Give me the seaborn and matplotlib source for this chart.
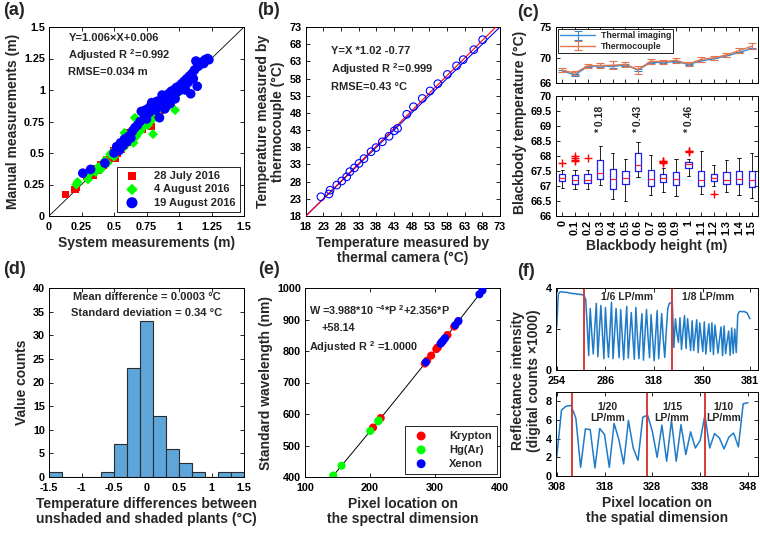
import numpy as np
import matplotlib
matplotlib.use("Agg")
import matplotlib.pyplot as plt
from matplotlib.ticker import FuncFormatter
import seaborn as sns

sns.set_theme(style="ticks")
plt.rcParams['font.family'] = ['Liberation Sans', 'DejaVu Sans']
plt.rcParams.update({
    'font.weight': 'bold', 'axes.labelweight': 'bold',
    'axes.edgecolor': 'black', 'axes.linewidth': 0.7,
    'xtick.direction': 'in', 'ytick.direction': 'in',
    'xtick.top': True, 'ytick.right': True,
    'xtick.major.size': 3, 'ytick.major.size': 3,
    'xtick.major.width': 0.6, 'ytick.major.width': 0.6,
    'xtick.color': 'black', 'ytick.color': 'black',
    'xtick.labelsize': 7.8, 'ytick.labelsize': 7.8,
    'xtick.major.pad': 4, 'ytick.major.pad': 2.8,
    'axes.labelsize': 10, 'axes.labelpad': 3,
    'mathtext.fontset': 'custom', 'mathtext.rm': 'Liberation Sans:bold',
    'mathtext.default': 'rm',
})

# ---------------- (a) plant height ----------------
july_sys = [0.13, 0.20, 0.21, 0.29, 0.34, 0.36, 0.38, 0.40, 0.42, 0.44, 0.46, 0.47, 0.49, 0.50, 0.51, 0.52, 0.53,
            0.55, 0.56, 0.57, 0.58, 0.59, 0.60, 0.61, 0.62, 0.63, 0.64, 0.66, 0.67, 0.68, 0.70, 0.72, 0.73, 0.75,
            0.77, 0.78, 0.80, 0.82, 0.84, 0.86, 0.88, 0.90, 0.92, 0.94, 0.95, 0.97, 0.99, 0.85, 0.79, 0.74]
july_man = [0.17, 0.21, 0.23, 0.31, 0.32, 0.38, 0.36, 0.41, 0.40, 0.45, 0.44, 0.48, 0.47, 0.52, 0.46, 0.55, 0.50,
            0.57, 0.53, 0.60, 0.56, 0.63, 0.58, 0.66, 0.61, 0.64, 0.68, 0.65, 0.70, 0.67, 0.72, 0.69, 0.75, 0.73,
            0.78, 0.75, 0.82, 0.80, 0.86, 0.84, 0.89, 0.87, 0.92, 0.90, 0.95, 0.96, 0.98, 0.79, 0.71, 0.79]
aug4_sys = [0.21, 0.22, 0.30, 0.31, 0.36, 0.38, 0.40, 0.43, 0.45, 0.47, 0.49, 0.50, 0.52, 0.54, 0.56, 0.58, 0.60,
            0.62, 0.63, 0.65, 0.66, 0.67, 0.68, 0.70, 0.71, 0.72, 0.74, 0.76, 0.78, 0.79, 0.80, 0.81, 0.83, 0.84,
            0.86, 0.87, 0.88, 0.89, 0.90, 0.92, 0.93, 0.95, 0.97, 0.96, 0.99, 0.66, 0.58]
aug4_man = [0.25, 0.27, 0.29, 0.33, 0.35, 0.39, 0.37, 0.44, 0.42, 0.49, 0.51, 0.47, 0.53, 0.55, 0.58, 0.55, 0.62,
            0.60, 0.65, 0.58, 0.68, 0.63, 0.71, 0.67, 0.74, 0.70, 0.77, 0.72, 0.80, 0.76, 0.65, 0.84, 0.81, 0.88,
            0.86, 0.92, 0.87, 0.95, 0.90, 0.93, 0.89, 0.96, 0.84, 0.93, 0.97, 0.78, 0.66]
aug19_sys = [0.26, 0.32, 0.43, 0.50, 0.52, 0.54, 0.55, 0.57, 0.58, 0.60, 0.61, 0.63, 0.64, 0.66, 0.68, 0.70, 0.71,
             0.73, 0.74, 0.75, 0.76, 0.77, 0.78, 0.80, 0.81, 0.82, 0.83, 0.84, 0.85, 0.86, 0.87, 0.88, 0.89, 0.90,
             0.91, 0.92, 0.93, 0.94, 0.95, 0.96, 0.97, 0.98, 0.99, 1.00, 1.01, 1.02, 1.03, 1.04, 1.05, 1.06, 1.07,
             1.08, 1.09, 1.10, 1.11, 1.12, 1.13, 1.14, 1.15, 1.17, 1.19, 1.20, 1.22, 1.23, 0.97, 0.93, 0.89, 1.05,
             0.79, 0.87]
aug19_man = [0.34, 0.37, 0.42, 0.50, 0.55, 0.52, 0.58, 0.56, 0.61, 0.59, 0.63, 0.62, 0.67, 0.70, 0.72, 0.75, 0.83,
             0.81, 0.84, 0.77, 0.85, 0.82, 0.87, 0.86, 0.89, 0.84, 0.91, 0.88, 0.78, 0.92, 0.89, 0.94, 0.91, 0.95,
             0.93, 0.97, 0.94, 0.99, 0.96, 1.00, 0.97, 1.02, 0.99, 1.03, 1.00, 1.05, 1.02, 1.07, 1.04, 1.09, 1.06,
             1.11, 0.97, 1.13, 1.09, 1.16, 1.23, 1.03, 1.19, 1.22, 1.21, 1.24, 1.25, 1.24, 0.93, 0.89, 0.85, 1.00,
             0.90, 0.96]

# ---------------- (b) thermal camera vs thermocouple ----------------
camera_temp = [22.3, 24.6, 24.9, 26.8, 28.2, 29.6, 30.5, 31.8, 33.1, 34.5, 36.5, 37.9, 39.7, 41.6, 43.1, 44.0,
               46.6, 48.5, 51.0, 53.2, 55.4, 58.1, 60.7, 62.6, 65.6, 68.1]
couple_temp = [23.6, 24.4, 25.5, 27.0, 28.2, 29.4, 30.9, 32.0, 33.3, 34.7, 36.7, 37.9, 39.6, 41.2, 42.8, 43.5,
               47.6, 49.8, 52.2, 54.4, 56.5, 59.2, 61.7, 63.5, 66.4, 69.3]

# ---------------- (c) blackbody ----------------
heights = ['0', '0.1', '0.2', '0.3', '0.4', '0.5', '0.6', '0.7', '0.8', '0.9', '1', '1.1', '1.2', '1.3', '1.4', '1.5']
imaging_mean = [67.96, 67.30, 68.65, 68.75, 68.65, 68.90, 68.10, 69.30, 69.30, 69.45, 69.00, 69.55, 69.90, 70.35,
                70.90, 71.55]
imaging_err = [0.15, 0.15, 0.15, 0.15, 0.20, 0.15, 0.15, 0.15, 0.15, 0.15, 0.12, 0.15, 0.15, 0.15, 0.15, 0.15]
couple_mean = [68.05, 67.60, 68.75, 68.80, 68.85, 69.00, 68.15, 69.50, 69.40, 69.65, 69.05, 69.80, 70.05, 70.50,
               71.20, 71.90]
couple_err = [0.30, 0.28, 0.35, 0.35, 0.66, 0.45, 0.66, 0.40, 0.35, 0.40, 0.30, 0.40, 0.35, 0.35, 0.35, 0.48]

box_q3 = [67.40, 67.36, 67.39, 67.87, 67.58, 67.49, 68.11, 67.53, 67.39, 67.47, 67.80, 67.49, 67.41, 67.47, 67.50, 67.49]
box_q1 = [67.16, 67.08, 67.10, 67.24, 66.89, 67.08, 67.49, 67.00, 67.13, 67.02, 67.60, 67.00, 67.16, 67.07, 67.07, 66.97]
box_med = [67.27, 67.19, 67.21, 67.44, 67.23, 67.27, 67.71, 67.22, 67.27, 67.24, 67.73, 67.19, 67.27, 67.19, 67.22, 67.19]
box_lo = [66.94, 66.89, 66.89, 67.02, 66.58, 66.49, 67.31, 66.69, 66.80, 66.67, 67.33, 66.73, 67.00, 66.80, 66.71, 66.60]
box_hi = [67.55, 67.55, 67.55, 68.33, 68.11, 67.89, 68.47, 68.05, 67.60, 67.91, 67.90, 68.18, 67.69, 67.86, 67.94, 68.11]
box_fliers = [[67.77], [67.83, 67.88, 67.93, 68.0], [67.92], [], [], [], [], [], [67.77, 67.8, 67.82, 67.84], [],
              [68.12, 68.15, 68.18], [], [66.75], [], [], []]
diff_labels = {3: '* 0.18', 6: '* 0.43', 10: '* 0.46'}

# ---------------- (d) histogram ----------------
hist_edges = [-1.5, -1.3, -1.1, -0.9, -0.7, -0.5, -0.3, -0.1, 0.1, 0.3, 0.5, 0.7, 0.9, 1.1, 1.3, 1.5]
hist_counts = [1, 0, 0, 0, 1, 7, 23, 33, 13, 6, 3, 1, 0, 1, 1]

# ---------------- (e) spectral calibration ----------------
krypton_px = [204.7, 216.5, 284.3, 287.9, 294.1, 302.0, 303.7, 304.1, 309.8, 311.2, 319.2, 329.5, 335.3]
krypton_nm = [557.0, 587.1, 760.2, 769.5, 785.5, 806.0, 810.4, 811.3, 826.3, 829.8, 850.9, 877.7, 892.9]
hg_px = [143.6, 156.2, 200.3, 212.6, 213.5]
hg_nm = [404.7, 435.8, 546.1, 577.0, 579.1]
xenon_px = [285.9, 308.6, 310.4, 313.1, 315.5, 331.1, 336.2, 368.3, 373.0]
xenon_nm = [764.2, 823.2, 828.0, 834.7, 840.9, 881.9, 895.2, 980.0, 992.3]

# ---------------- (f) spatial resolution ----------------
top_start = 254
top_signal = [2.10, 3.70, 3.80, 3.82, 3.80, 3.80, 3.78, 3.79, 3.76, 3.75, 3.74, 3.72, 3.73, 3.70, 3.71, 3.68,
              3.69, 3.66, 3.62, 3.45, 2.20,
              0.70, 3.00, 1.80, 0.78, 2.10, 3.25, 0.65, 1.90, 3.15, 1.80, 0.55, 3.05, 1.70, 0.62, 2.00, 3.30,
              0.55, 1.80, 3.00, 1.70, 0.60, 2.95, 1.70, 0.50, 1.90, 3.10, 0.58, 1.70, 2.80, 1.60, 0.52, 3.05,
              1.70, 0.55, 1.80, 2.75, 0.48, 1.70, 2.95, 1.60, 0.60, 2.70, 1.60, 0.45, 1.70, 2.90, 0.55, 1.60,
              2.75, 1.50, 0.62,
              1.90, 3.00, 3.25, 3.28, 3.20,
              1.10, 2.50, 1.80, 1.35, 2.55, 1.00, 1.90, 2.65, 1.05, 2.50, 1.70, 0.95, 2.40, 0.95, 1.70, 2.45,
              0.85, 2.30, 1.60, 0.90, 2.35, 0.78, 1.60, 2.25, 0.90, 2.30, 0.75, 2.20, 1.50, 0.82, 1.50, 2.10,
              0.70, 2.15, 0.80, 1.40, 1.90, 0.72, 2.05, 0.80, 2.00, 0.85,
              2.70, 2.85, 2.86, 2.84, 2.86, 2.82, 2.80, 2.65, 2.50]
top_bounds = [271.8, 329.8]
top_ticks = [254, 286, 318, 350, 381]

bottom_start = 308
bottom_signal = [2.04, 7.06, 7.49, 7.56, 6.20, 0.93, 5.05, 4.98, 0.86, 5.09, 4.44, 0.93, 5.63, 3.90, 1.29,
                 5.95, 3.00, 1.68, 6.30, 6.52, 4.80, 2.00, 5.45, 1.58, 5.95, 1.58, 5.50, 2.29, 4.73, 3.00,
                 3.80, 6.52, 3.00, 4.55, 4.09, 2.90, 4.16, 4.60, 3.12, 7.74, 7.85]
bottom_bounds = [311.1, 326.8, 339.0]
bottom_ticks = [308, 318, 328, 338, 348]


def fmt(v, pos=None):
    return f"{v:g}"


def box_axes(ax):
    ax.tick_params(which='both', top=True, right=True)
    for s in ax.spines.values():
        s.set_visible(True)
        s.set_color('black')


fig = plt.figure(figsize=(7.6, 5.34), dpi=100)
W, H = 760.0, 534.0


def add(l, t, r, b):
    return fig.add_axes([l / W, 1 - b / H, (r - l) / W, (b - t) / H])


# ---------- (a) ----------
ax = add(49, 27, 244, 216)
sns.scatterplot(x=july_sys, y=july_man, marker='s', s=26, color='#ff0000', edgecolor='none', ax=ax,
                label='28 July 2016', zorder=3)
sns.scatterplot(x=aug4_sys, y=aug4_man, marker='D', s=26, color='#00ff00', edgecolor='none', ax=ax,
                label='4 August 2016', zorder=4)
sns.scatterplot(x=aug19_sys, y=aug19_man, marker='o', s=48, color='#0000ff', edgecolor='none', ax=ax,
                label='19 August 2016', zorder=5)
ax.axline((0, 0), slope=1, color='black', lw=0.6, zorder=2)
ax.set_xlim(0, 1.5)
ax.set_ylim(0, 1.5)
ticks_a = [0, 0.25, 0.5, 0.75, 1, 1.25, 1.5]
ax.set_xticks(ticks_a)
ax.set_yticks(ticks_a)
ax.xaxis.set_major_formatter(FuncFormatter(fmt))
ax.yaxis.set_major_formatter(FuncFormatter(fmt))
ax.set_xlabel('System measurements (m)')
ax.set_ylabel('Manual measurements (m)')
leg = ax.legend(loc='lower right', fontsize=8, frameon=True, fancybox=False, framealpha=1,
                edgecolor='black', borderpad=0.35, handletextpad=1.0, labelspacing=0.3,
                borderaxespad=0.4, markerscale=1.15)
leg.get_frame().set_linewidth(0.6)
ax.text(0.1, 0.925, 'Y=1.006×X+0.006', transform=ax.transAxes, fontsize=8)
ax.text(0.1, 0.83, r'Adjusted R $^{2}$=0.992', transform=ax.transAxes, fontsize=8)
ax.text(0.1, 0.745, 'RMSE=0.034 m', transform=ax.transAxes, fontsize=8)
box_axes(ax)

# ---------- (b) ----------
ax = add(305.7, 27, 500, 216)
ax.set_xlim(18, 73)
ax.set_ylim(18, 73)
ax.axline((18, 18), slope=1, color='#0000ff', lw=0.8, zorder=2)
sns.regplot(x=camera_temp, y=couple_temp, scatter=False, ci=None, truncate=False, color='red',
            line_kws={'lw': 0.8, 'zorder': 3}, ax=ax)
sns.scatterplot(x=camera_temp, y=couple_temp, marker='o', s=30, facecolor='none', edgecolor='#0000ff',
                linewidth=0.8, ax=ax, zorder=4)
ticks_b = list(range(18, 74, 5))
ax.set_xticks(ticks_b)
ax.set_yticks(ticks_b)
ax.set_xlim(18, 73)
ax.set_ylim(18, 73)
ax.set_xlabel('Temperature measured by\nthermal camera (°C)', linespacing=1.1)
ax.set_ylabel('Temperature measured by\nthermocouple (°C)', linespacing=1.1)
ax.text(0.13, 0.855, 'Y=X *1.02 -0.77', transform=ax.transAxes, fontsize=8)
ax.text(0.13, 0.755, r'Adjusted R $^{2}$=0.999', transform=ax.transAxes, fontsize=8)
ax.text(0.13, 0.665, 'RMSE=0.43 °C', transform=ax.transAxes, fontsize=8)
box_axes(ax)

# ---------- (c) top ----------
pos = np.arange(1, len(heights) + 1)
ax = add(556, 27, 758, 83)
ax.errorbar(pos, imaging_mean, yerr=imaging_err, color='#3a8ad4', lw=1.0, capsize=3, elinewidth=0.8,
            capthick=0.8, label='Thermal imaging', zorder=3)
ax.errorbar(pos, couple_mean, yerr=couple_err, color='#e3764c', lw=1.0, capsize=3, elinewidth=0.8,
            capthick=0.8, label='Thermocouple', zorder=4)
ax.set_xlim(0.5, 16.5)
ax.set_ylim(66, 75)
ax.set_yticks([66, 70, 75])
ax.set_xticks(pos)
ax.set_xticklabels([])
leg = ax.legend(loc='upper left', fontsize=6.3, frameon=True, fancybox=False, framealpha=1,
                edgecolor='black', handlelength=4, borderpad=0.25, labelspacing=0.15,
                borderaxespad=0.25, handletextpad=0.6)
leg.get_frame().set_linewidth(0.6)
box_axes(ax)

# ---------- (c) bottom ----------
ax = add(556, 96, 758, 216)
stats = []
for i in range(len(heights)):
    stats.append({'med': box_med[i], 'q1': box_q1[i], 'q3': box_q3[i], 'whislo': box_lo[i],
                  'whishi': box_hi[i], 'fliers': box_fliers[i], 'label': heights[i]})
ax.bxp(stats, positions=pos, widths=0.5, showfliers=True,
       boxprops={'color': '#1f1fff', 'lw': 0.9},
       medianprops={'color': '#ff2020', 'lw': 0.9},
       whiskerprops={'color': 'black', 'lw': 0.6},
       capprops={'color': 'black', 'lw': 0.6},
       flierprops={'marker': '+', 'markeredgecolor': '#ff0000', 'markersize': 6, 'markeredgewidth': 1.0})
for i, txt in diff_labels.items():
    ax.text(pos[i], 68.78, txt, rotation=90, ha='center', va='bottom', fontsize=7.5)
ax.set_xlim(0.5, 16.5)
ax.set_ylim(66, 70)
ax.set_yticks(np.arange(66, 70.01, 0.5))
ax.yaxis.set_major_formatter(FuncFormatter(fmt))
ax.set_xticks(pos)
ax.set_xticklabels(heights, rotation=90)
ax.tick_params(axis='x', pad=3)
ax.set_xlabel('Blackbody height (m)')
box_axes(ax)
fig.text(520 / W, 1 - 122 / H, 'Blackbody temperature (°C)', rotation=90, ha='center', va='center',
         fontsize=10, fontweight='bold')

# ---------- (d) ----------
ax = add(49, 288, 244, 477)
centers = [(hist_edges[i] + hist_edges[i + 1]) / 2 for i in range(len(hist_counts))]
sns.histplot(x=centers, weights=hist_counts, bins=hist_edges, color='#5ea5da', alpha=1,
             edgecolor='#2b2b2b', linewidth=0.8, ax=ax)
ax.set_xlim(-1.5, 1.5)
ax.set_ylim(0, 40)
ax.set_xticks([-1.5, -1, -0.5, 0, 0.5, 1, 1.5])
ax.set_yticks(range(0, 41, 5))
ax.xaxis.set_major_formatter(FuncFormatter(fmt))
ax.set_xlabel('Temperature differences between\nunshaded and shaded plants (°C)', linespacing=1.1)
ax.set_ylabel('Value counts')
ax.text(0.5, 0.935, 'Mean difference = 0.0003 °C', transform=ax.transAxes, ha='center', fontsize=8)
ax.text(0.5, 0.85, 'Standard deviation = 0.34 °C', transform=ax.transAxes, ha='center', fontsize=8)
box_axes(ax)

# ---------- (e) ----------
ax = add(305, 288, 500, 477)
all_px = krypton_px + hg_px + xenon_px
all_nm = krypton_nm + hg_nm + xenon_nm
sns.regplot(x=all_px, y=all_nm, order=2, scatter=False, ci=None, truncate=True, color='black',
            line_kws={'lw': 0.7, 'zorder': 2}, ax=ax)
sns.scatterplot(x=krypton_px, y=krypton_nm, s=34, color='#ff0000', edgecolor='none', label='Krypton', ax=ax, zorder=3)
sns.scatterplot(x=hg_px, y=hg_nm, s=34, color='#00ff00', edgecolor='none', label='Hg(Ar)', ax=ax, zorder=4)
sns.scatterplot(x=xenon_px, y=xenon_nm, s=34, color='#0000ff', edgecolor='none', label='Xenon', ax=ax, zorder=5)
ax.set_xlim(100, 400)
ax.set_ylim(400, 1000)
ax.set_xticks([100, 200, 300, 400])
ax.set_yticks(range(400, 1001, 100))
ax.set_xlabel('Pixel location on\nthe spectral dimension', linespacing=1.1)
ax.set_ylabel('Standard wavelength (nm)')
leg = ax.legend(loc='lower right', fontsize=8, frameon=True, fancybox=False, framealpha=1,
                edgecolor='black', borderpad=0.45, handletextpad=1.5, labelspacing=0.35,
                borderaxespad=0.3, markerscale=1.1)
leg.get_frame().set_linewidth(0.6)
ax.text(0.02, 0.855, r'W =3.988*10 $^{-4}$*P $^{2}$+2.356*P', transform=ax.transAxes, fontsize=7.8)
ax.text(0.085, 0.77, '+58.14', transform=ax.transAxes, fontsize=7.8)
ax.text(0.02, 0.665, r'Adjusted R $^{2}$ =1.0000', transform=ax.transAxes, fontsize=7.8)
box_axes(ax)

# ---------- (f) top ----------
line_blue = '#1f7bc8'
bound_red = '#d93a3a'
ax = add(556, 288, 758, 370)
top_px = np.arange(top_start, top_start + len(top_signal))
sns.lineplot(x=top_px, y=top_signal, color=line_blue, lw=1.1, ax=ax)
for b in top_bounds:
    ax.axvline(b, color=bound_red, lw=1.4)
ax.set_xlim(253.5, 386.3)
ax.set_ylim(0, 4)
ax.set_yticks([0, 2, 4])
ax.set_xticks(top_ticks)
ax.text(300, 3.55, '1/6 LP/mm', ha='center', va='center', fontsize=7.5)
ax.text(353.6, 3.55, '1/8 LP/mm', ha='center', va='center', fontsize=7.5)
box_axes(ax)

# ---------- (f) bottom ----------
ax = add(556, 392, 758, 476)
bottom_px = np.arange(bottom_start, bottom_start + len(bottom_signal))
sns.lineplot(x=bottom_px, y=bottom_signal, color=line_blue, lw=1.1, ax=ax)
for b in bottom_bounds:
    ax.axvline(b, color=bound_red, lw=1.4)
ax.set_xlim(307.85, 350.1)
ax.set_ylim(0, 9)
ax.set_yticks([0, 2, 4, 6, 8])
ax.set_xticks(bottom_ticks)
ax.text(318.6, 6.8, '1/20\nLP/mm', ha='center', va='center', fontsize=7.5, linespacing=1.1)
ax.text(332.1, 6.8, '1/15\nLP/mm', ha='center', va='center', fontsize=7.5, linespacing=1.1)
ax.text(342.9, 6.8, '1/10\nLP/mm', ha='center', va='center', fontsize=7.5, linespacing=1.1)
ax.set_xlabel('Pixel location on\nthe spatial dimension', linespacing=1.1)
box_axes(ax)
fig.text(526 / W, 1 - 381 / H, 'Reflectance intensity\n(digital counts ×1000)', rotation=90,
         ha='center', va='center', fontsize=10, fontweight='bold', linespacing=1.1)

# panel letters
for lbl, x, y in [('(a)', 3, 2), ('(b)', 257, 2), ('(c)', 517, 4), ('(d)', 3, 261), ('(e)', 258, 261),
                  ('(f)', 517, 263)]:
    fig.text(x / W, 1 - y / H, lbl, ha='left', va='top', fontsize=13, fontweight='bold')

fig.savefig('out.png', dpi=100)
